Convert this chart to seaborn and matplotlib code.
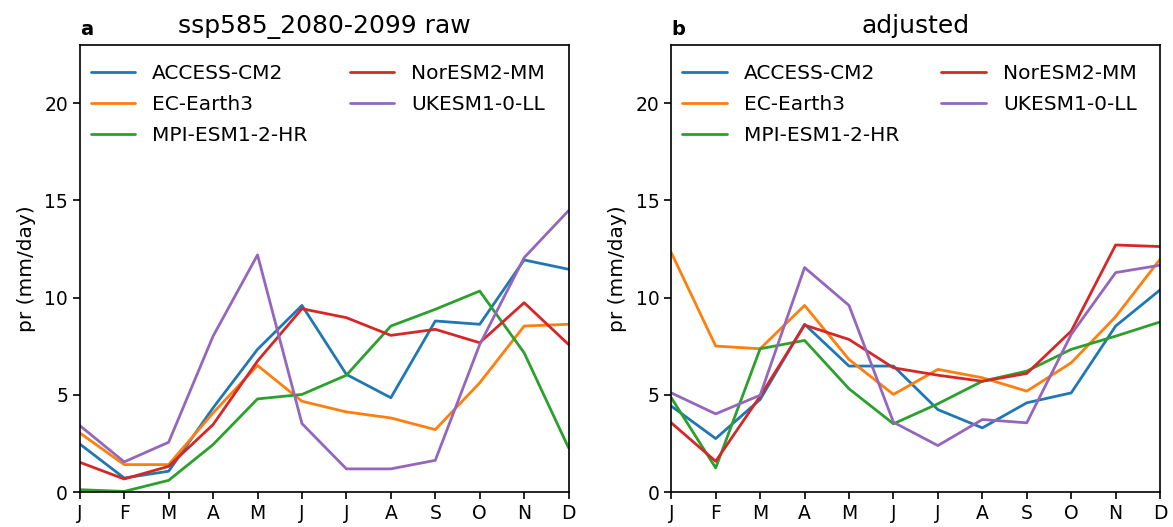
import numpy as np
import pandas as pd
import matplotlib
matplotlib.use("Agg")
import matplotlib.pyplot as plt
import seaborn as sns

sns.set_style("ticks")
plt.rcParams.update({
    "text.color": "black",
    "axes.labelcolor": "black",
    "axes.edgecolor": "black",
    "xtick.color": "black",
    "ytick.color": "black",
})

# ---------------------------------------------------------------------------
# Data (monthly mean precipitation, mm/day)
# ---------------------------------------------------------------------------
months = ["J", "F", "M", "A", "M", "J", "J", "A", "S", "O", "N", "D"]
models = ["ACCESS-CM2", "EC-Earth3", "MPI-ESM1-2-HR", "NorESM2-MM", "UKESM1-0-LL"]

raw_access = [2.47, 0.72, 1.07, 4.33, 7.34, 9.6, 6.05, 4.85, 8.8, 8.63, 11.94, 11.46]
raw_ecearth = [3.04, 1.41, 1.41, 4.07, 6.51, 4.67, 4.12, 3.81, 3.21, 5.62, 8.54, 8.63]
raw_mpi = [0.12, 0.03, 0.6, 2.44, 4.79, 5.02, 6.01, 8.54, 9.4, 10.34, 7.16, 2.27]
raw_noresm = [1.53, 0.67, 1.32, 3.47, 6.74, 9.43, 8.97, 8.06, 8.37, 7.68, 9.74, 7.59]
raw_ukesm = [3.42, 1.55, 2.56, 8.02, 12.2, 3.52, 1.19, 1.19, 1.63, 7.59, 12.06, 14.48]

adj_access = [4.42, 2.75, 4.76, 8.63, 6.48, 6.48, 4.24, 3.3, 4.59, 5.1, 8.54, 10.4]
adj_ecearth = [12.32, 7.51, 7.37, 9.6, 6.82, 5.02, 6.31, 5.88, 5.19, 6.65, 9.02, 11.98]
adj_mpi = [4.85, 1.24, 7.37, 7.8, 5.31, 3.51, 4.54, 5.7, 6.22, 7.34, 8.02, 8.75]
adj_noresm = [3.56, 1.58, 4.93, 8.59, 7.85, 6.39, 6.01, 5.7, 6.1, 8.28, 12.71, 12.63]
adj_ukesm = [5.1, 4.02, 4.98, 11.55, 9.6, 3.59, 2.39, 3.73, 3.56, 8.11, 11.29, 11.67]

raw = [raw_access, raw_ecearth, raw_mpi, raw_noresm, raw_ukesm]
adj = [adj_access, adj_ecearth, adj_mpi, adj_noresm, adj_ukesm]


def to_long(series_list):
    rows = []
    for name, vals in zip(models, series_list):
        for i, v in enumerate(vals):
            rows.append({"month": i, "pr": v, "model": name})
    return pd.DataFrame(rows)


palette = dict(zip(models, sns.color_palette("tab10", 5)))

fig, axes = plt.subplots(1, 2, figsize=(11.73, 5.27), dpi=100)
fig.subplots_adjust(left=0.068, right=0.989, bottom=0.0664, top=0.9146, wspace=0.21)

panels = [(axes[0], raw, "ssp585_2080-2099 raw", "a"),
          (axes[1], adj, "adjusted", "b")]

for ax, data, title, tag in panels:
    df = to_long(data)
    sns.lineplot(data=df, x="month", y="pr", hue="model", palette=palette,
                 linewidth=2, ax=ax)
    ax.set_xlim(0, 11)
    ax.set_ylim(0, 23)
    ax.set_xticks(range(12))
    ax.set_xticklabels(months)
    ax.set_yticks([0, 5, 10, 15, 20])
    ax.tick_params(labelsize=13.5, length=5, width=1.2)
    ax.set_xlabel("")
    ax.set_ylabel("pr (mm/day)", fontsize=14.5, labelpad=6)
    ax.set_title(title, fontsize=18, pad=9)
    ax.text(0.0, 1.022, tag, transform=ax.transAxes, fontsize=14,
            fontweight="bold", ha="left", va="baseline")
    for s in ax.spines.values():
        s.set_linewidth(1.2)
    ax.legend(loc="upper left", bbox_to_anchor=(0.0, 0.982), ncol=2,
              frameon=False, fontsize=14.5, handlelength=2.2,
              handletextpad=0.85, columnspacing=2.1, labelspacing=0.6,
              borderaxespad=0.15, title=None)

fig.savefig("out.png", dpi=100)
